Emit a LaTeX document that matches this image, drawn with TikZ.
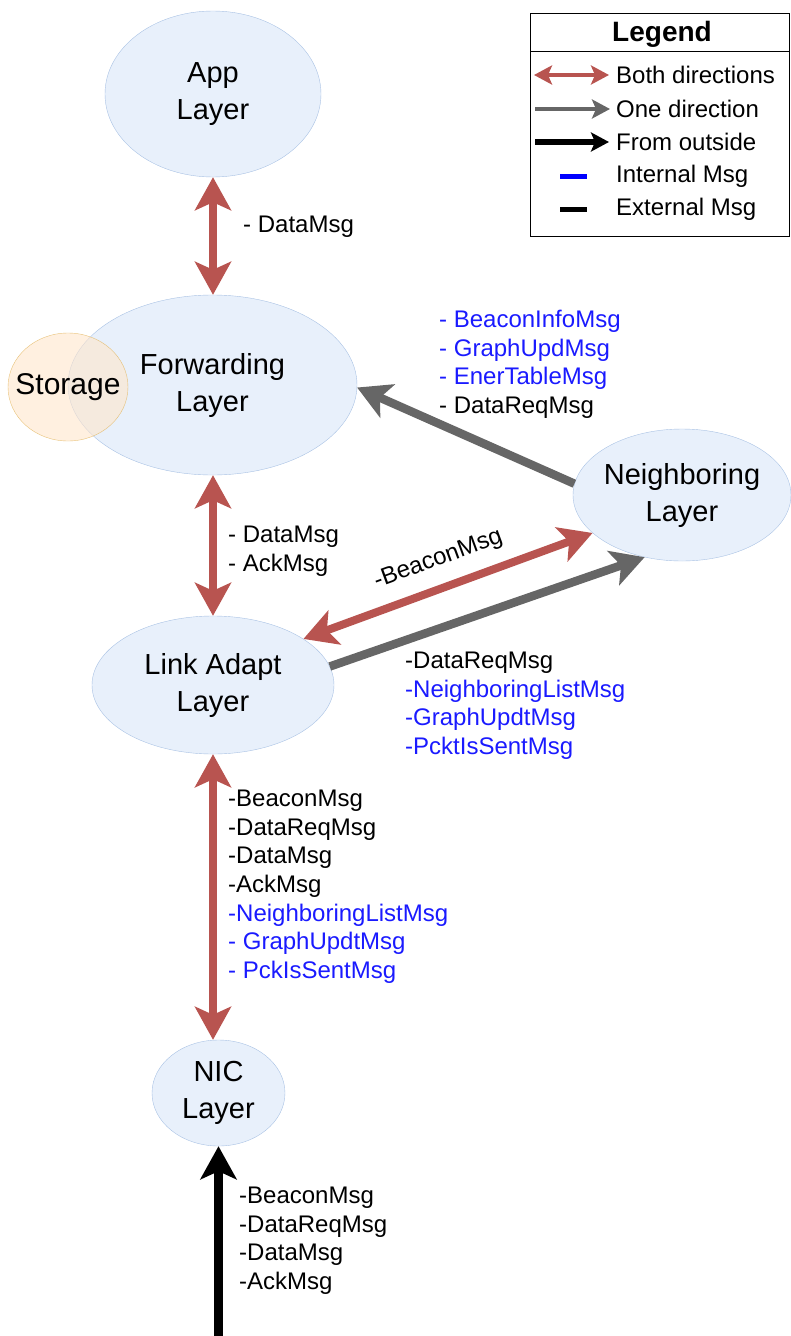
\documentclass[tikz,border=0pt]{standalone}
\usepackage{fontspec}
\setmainfont{Liberation Sans}
\usetikzlibrary{arrows.meta, positioning, shapes.geometric}
\usepackage{xcolor}
\definecolor{layerfill}{HTML}{E8F0FB}
\definecolor{layerdraw}{HTML}{A9C2E4}
\definecolor{storefill}{HTML}{FFE6CC}
\definecolor{storedraw}{HTML}{E2B45A}
\definecolor{bothred}{HTML}{B85450}
\definecolor{onegray}{HTML}{666666}
\definecolor{intblue}{HTML}{1A1AFF}
\tikzset{
  bigtip/.tip={Stealth[length=33pt, width=36pt, inset=8pt]},
  smalltip/.tip={Stealth[length=18pt, width=19pt, inset=4pt]},
  layer/.style={ellipse, draw=layerdraw, fill=layerfill, thin, inner sep=0pt,
                align=center, font=\fontsize{29}{37}\selectfont},
  store/.style={ellipse, draw=storedraw, fill=storefill, fill opacity=0.6,
                draw opacity=0.8, text opacity=1, thin, inner sep=0pt,
                inner xsep=-12pt, align=center, font=\fontsize{30}{37}\selectfont},
  msg/.style={anchor=north west, inner sep=0pt, align=left,
              font=\fontsize{24}{28.6}\selectfont},
  legtxt/.style={anchor=west, inner sep=0pt, font=\fontsize{24}{28.6}\selectfont},
  bothArr/.style={draw=bothred, line width=8pt, arrows={bigtip-bigtip}},
  oneArr/.style={draw=onegray, line width=8.5pt, arrows={-bigtip}},
  outArr/.style={draw=black, line width=8.5pt, arrows={-bigtip}},
  legBoth/.style={draw=bothred, line width=4pt, arrows={smalltip-smalltip}},
  legOne/.style={draw=onegray, line width=4pt, arrows={-smalltip}},
  legOut/.style={draw=black, line width=6pt, arrows={-smalltip}},
  legDash/.style={line width=5pt, draw=#1},
}
\begin{document}
\begin{tikzpicture}[x=1pt, y=-1pt]
\useasboundingbox (0,0) rectangle (790,1336);

% layers
\node[layer, minimum width=216pt, minimum height=166pt] (app) at (213,94) {App\\Layer};
\node[layer, minimum width=289pt, minimum height=180pt] (fwd) at (212.5,385) {Forwarding\\Layer};
\node[store, minimum width=120pt, minimum height=108pt] (store) at (68,387) {Storage};
\node[layer, minimum width=218pt, minimum height=132pt, inner xsep=-3pt] (nbr) at (682,495) {Neighboring\\Layer};
\node[layer, minimum width=242pt, minimum height=138pt] (link) at (213,685) {Link Adapt\\Layer};
\node[layer, minimum width=133pt, minimum height=106pt] (nic) at (218.5,1093) {NIC\\Layer};
\coordinate (outside) at (218.5,1336);

% connectors
\draw[bothArr] (app.south) -- (app.south |- fwd.north);
\draw[bothArr] (link.north |- fwd.south) -- (link.north);
\draw[oneArr] (nbr.174) -- (fwd.-1);
\draw[bothArr] (link.27.8) -- node[midway, sloped, above=10pt, text=black,
  font=\fontsize{24}{28.6}\selectfont] (lblBeacon) {-BeaconMsg} (nbr.203);
\draw[oneArr] (link.9.7) -- (nbr.239.8);
\draw[bothArr] (link.south) -- (link.south |- nic.north);
\draw[outArr] (outside) -- (nic.south);

% message lists
\node[msg] (lblAppFwd) at (243,216) {- DataMsg};
\node[msg] (lblFwdLink) at (228,526) {- DataMsg\\- AckMsg};
\node[msg] (lblNbrFwd) at (439,310) {\textcolor{intblue}{- BeaconInfoMsg}\\
  \textcolor{intblue}{- GraphUpdMsg}\\ \textcolor{intblue}{- EnerTableMsg}\\ - DataReqMsg};
\node[msg] (lblLinkNbr) at (405,652) {-DataReqMsg\\ \textcolor{intblue}{-NeighboringListMsg}\\
  \textcolor{intblue}{-GraphUpdtMsg}\\ \textcolor{intblue}{-PcktIsSentMsg}};
\node[msg] (lblLinkNic) at (228,790) {-BeaconMsg\\-DataReqMsg\\-DataMsg\\-AckMsg\\
  \textcolor{intblue}{-NeighboringListMsg}\\ \textcolor{intblue}{- GraphUpdtMsg}\\
  \textcolor{intblue}{- PckIsSentMsg}};
\node[msg] (lblOut) at (239,1187) {-BeaconMsg\\-DataReqMsg\\-DataMsg\\-AckMsg};

% legend
\draw[thin] (530,13) rectangle (789,236);
\draw[thin] (530,51) -- (789,51);
\node[font=\fontsize{28}{32}\selectfont\bfseries] (legTitle) at (662,34) {Legend};
\coordinate (lgBothL) at (534,75);
\coordinate (lgBothR) at (609,75);
\node[legtxt, right=7pt of lgBothR] (lgBoth) {Both directions};
\draw[legBoth] (lgBothL) -- (lgBothR);
\coordinate (lgOneL) at (535,109);
\coordinate (lgOneR) at (610,109);
\node[legtxt, right=6pt of lgOneR] (lgOne) {One direction};
\draw[legOne] (lgOneL) -- (lgOneR);
\coordinate (lgOutL) at (535,142);
\coordinate (lgOutR) at (609,142);
\node[legtxt, right=7pt of lgOutR] (lgOut) {From outside};
\draw[legOut] (lgOutL) -- (lgOutR);
\coordinate (lgIntL) at (560,176);
\coordinate (lgIntR) at (587,176);
\node[legtxt, right=29pt of lgIntR] (lgInt) {Internal Msg};
\draw[legDash=blue] (lgIntL) -- (lgIntR);
\coordinate (lgExtL) at (560,209);
\coordinate (lgExtR) at (587,209);
\node[legtxt, right=29pt of lgExtR] (lgExt) {External Msg};
\draw[legDash=black] (lgExtL) -- (lgExtR);
\end{tikzpicture}
\end{document}
